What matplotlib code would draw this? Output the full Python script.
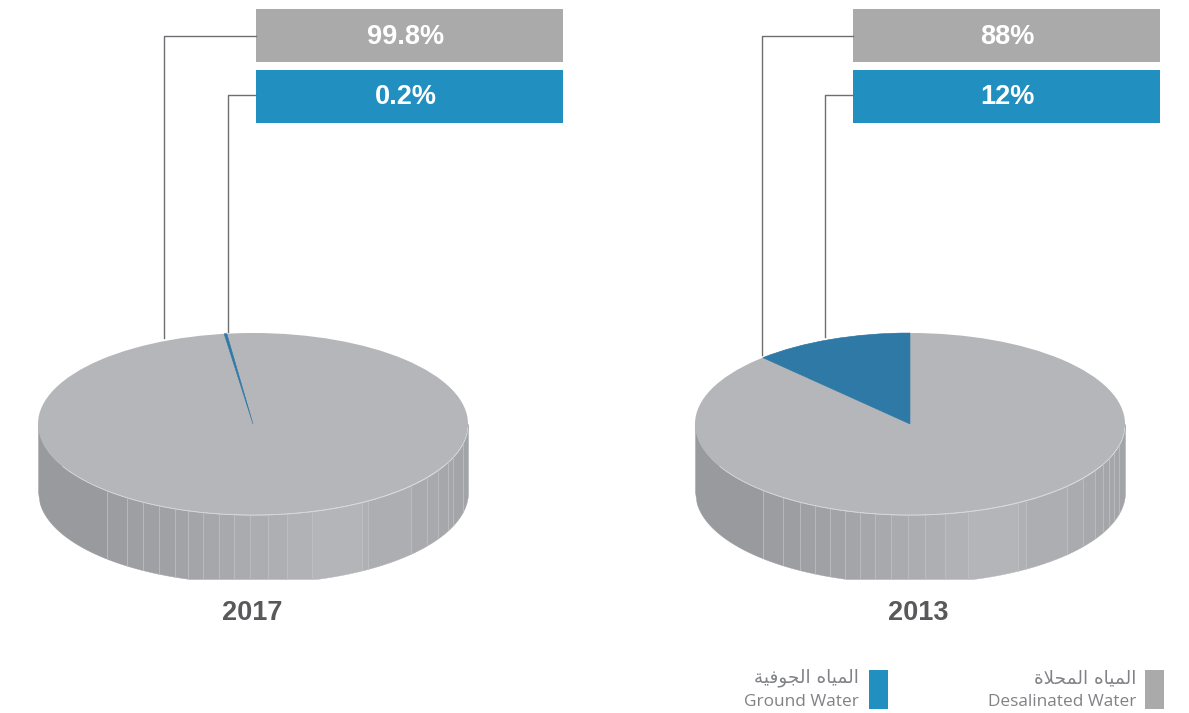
import matplotlib
matplotlib.use('Agg')
import matplotlib.pyplot as plt
import numpy as np
from matplotlib.colors import to_rgb
from matplotlib.patches import Ellipse, Rectangle, Wedge
from matplotlib.transforms import Affine2D

# data
years = ['2017', '2013']
desalinated = [99.8, 88]
ground = [0.2, 12]
share_labels_desal = ['99.8%', '88%']
share_labels_ground = ['0.2%', '12%']

# Arabic written as presentation forms in visual order, matplotlib does no shaping
ar_ground = '\ufe94\ufef4\ufed3\ufeee\ufea0\ufedf\ufe8d \ufee9\ufe8e\ufef4\ufee4\ufedf\ufe8d'
ar_desal = '\ufe93\ufefc\ufea4\ufee4\ufedf\ufe8d \ufee9\ufe8e\ufef4\ufee4\ufedf\ufe8d'
en_ground = 'Ground Water'
en_desal = 'Desalinated Water'

# layout in pixels
centers = [253, 910]
start_angles = [97.0, 90]
box_left = [256, 853]
label_x = [406, 1007]
line_outer = [(164, 338), (762, 355)]
line_inner = [(228, 332), (825, 337)]
year_x = [252, 918]
# side facet edges, as offset from pie center
facets = [
    [-146, -126, -110, -94, -78, -65, -50, -34, -19, -3, 15, 34, 59, 109, 115, 158, 174, 185, 195, 200, 210],
    [-147, -127, -110, -95, -80, -65, -50, -35, -19, -2, 15, 35, 58, 108, 116, 157, 173, 185, 193, 199, 204, 209],
]
RX, RY, DEPTH, CY, CLIP_Y = 215, 91, 68, 424, 579

GRAY = '#aaaaaa'
BLUE = '#218fbf'
TOP = '#b5b6ba'
WEDGE = '#2f79a6'
LINE = '#6d6e71'

plt.rcParams['font.family'] = ['Liberation Sans', 'DejaVu Sans']

fig = plt.figure(figsize=(11.89, 7.13), dpi=100)
ax = fig.add_axes([0, 0, 1, 1])
ax.set_xlim(0, 1189)
ax.set_ylim(713, 0)
ax.axis('off')


def side_colour(t):
    # dark on the left, lightest about two thirds along, a bit darker on the right
    stops = [0, 0.3, 0.68, 1]
    cols = np.array([to_rgb(c) for c in ['#96979b', '#a0a1a5', '#b5b6b9', '#a3a4a7']])
    return [np.interp(t, stops, cols[:, i]) for i in range(3)]


def draw_side(cx, edges):
    all_edges = [-RX] + edges + [RX]
    for a, b in zip(all_edges[:-1], all_edges[1:]):
        xs = np.linspace(a, b, 40)
        arc = RY * np.sqrt(np.clip(1 - (xs / RX) ** 2, 0, 1))
        top = CY + arc
        bottom = np.minimum(CY + DEPTH + arc, CLIP_Y)
        ax.fill_between(cx + xs, top, bottom, color=side_colour((a + b + 2 * RX) / (4 * RX)), lw=0.3)
    for e in edges:
        arc = RY * np.sqrt(1 - (e / RX) ** 2)
        ax.plot([cx + e, cx + e], [CY + arc, min(CY + DEPTH + arc, CLIP_Y)], color='#bfc0c3', lw=0.5)


for i, year in enumerate(years):
    cx = centers[i]
    draw_side(cx, facets[i])

    # top of the pie, light rim only along the front edge
    ax.add_patch(Ellipse((cx, CY), 2 * RX, 2 * RY, fc=TOP, ec='none'))
    rim = np.linspace(-RX + 25, RX - 25, 200)
    ax.plot(cx + rim, CY + RY * np.sqrt(1 - (rim / RX) ** 2), color='#d6d7d9', lw=0.6)
    unit = Affine2D().scale(RX, -RY).translate(cx, CY) + ax.transData
    sweep = ground[i] / (ground[i] + desalinated[i]) * 360
    ax.add_patch(Wedge((0, 0), 1, start_angles[i], start_angles[i] + sweep,
                       fc=WEDGE, ec=WEDGE, lw=0.4, transform=unit))

    # value boxes
    left = box_left[i]
    ax.add_patch(Rectangle((left, 9), 307, 53, fc=GRAY, ec='none'))
    ax.add_patch(Rectangle((left, 70), 307, 53, fc=BLUE, ec='none'))
    ax.text(label_x[i], 37, share_labels_desal[i], color='white', fontsize=19.5, fontweight='bold', ha='center', va='center')
    ax.text(label_x[i], 97, share_labels_ground[i], color='white', fontsize=19.5, fontweight='bold', ha='center', va='center')

    # leader lines
    ax.plot([left, line_outer[i][0], line_outer[i][0]], [36, 36, line_outer[i][1]], color=LINE, lw=1)
    ax.plot([left, line_inner[i][0], line_inner[i][0]], [95, 95, line_inner[i][1]], color=LINE, lw=1)

    ax.text(year_x[i], 613, year, color='#58595b', fontsize=19.5, fontweight='bold', ha='center', va='center')

# legend
ax.add_patch(Rectangle((869, 670), 19, 39, fc=BLUE, ec='none'))
ax.add_patch(Rectangle((1145, 670), 19, 39, fc=GRAY, ec='none'))
for x, ar, en in [(859, ar_ground, en_ground), (1136, ar_desal, en_desal)]:
    ax.text(x, 678, ar, color='#808285', fontsize=13.2, ha='right', va='center', family='DejaVu Sans')
    ax.text(x, 702, en, color='#808285', fontsize=12.4, ha='right', va='center', family='Open Sans')

fig.savefig('out.png', dpi=100)
